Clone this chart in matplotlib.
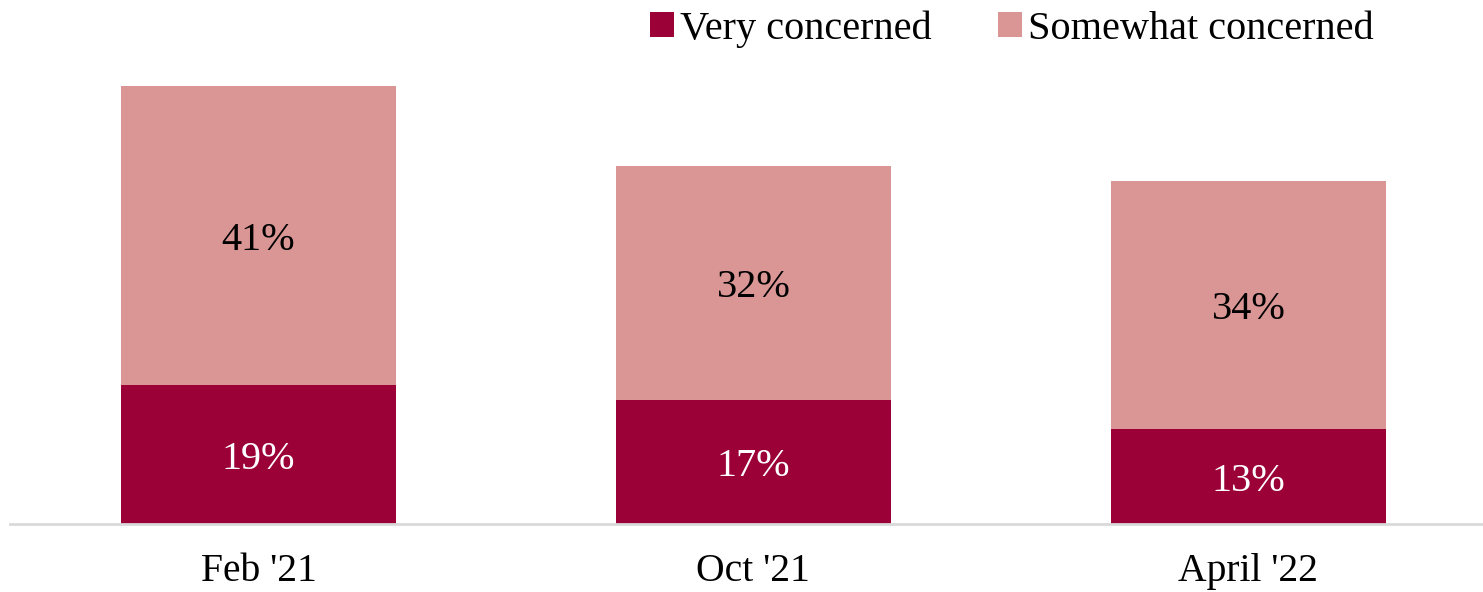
import matplotlib
matplotlib.use("Agg")
import matplotlib.pyplot as plt
import numpy as np

categories = ["Feb '21", "Oct '21", "April '22"]
very_concerned = [19, 17, 13]
somewhat_concerned = [41, 32, 34]
series_names = ["Very concerned", "Somewhat concerned"]

DARK = "#9B0036"
LIGHT = "#D99694"

plt.rcParams["font.family"] = ["Liberation Serif", "DejaVu Serif"]

W, H = 1483, 592
fig = plt.figure(figsize=(W / 100, H / 100), dpi=100)
ax = fig.add_axes([10 / W, (H - 524) / H, 1 - 10 / W, 464 / H])

x = np.arange(len(categories))
width = 0.556
b1 = ax.bar(x, very_concerned, width, color=DARK, label=series_names[0])
b2 = ax.bar(x, somewhat_concerned, width, bottom=very_concerned, color=LIGHT,
            label=series_names[1])

for rect, v in zip(b1, very_concerned):
    ax.text(rect.get_x() + rect.get_width() / 2, rect.get_y() + rect.get_height() / 2,
            f"{v}%", ha="center", va="center_baseline", color="white", fontsize=29)
for rect, v in zip(b2, somewhat_concerned):
    ax.text(rect.get_x() + rect.get_width() / 2, rect.get_y() + rect.get_height() / 2,
            f"{v}%", ha="center", va="center_baseline", color="black", fontsize=29)

ax.set_xlim(-0.502, 2.474)
ax.set_ylim(0, 464 / 7.3)
ax.set_xticks(x)
ax.set_xticklabels(categories, fontsize=28.5)
ax.tick_params(axis="x", length=0, pad=21)
ax.set_yticks([])
for s in ["top", "right", "left"]:
    ax.spines[s].set_visible(False)
ax.spines["bottom"].set_color("#D9D9D9")
ax.spines["bottom"].set_linewidth(2)

fig.legend(handles=[b1, b2], labels=series_names, loc="center right",
           bbox_to_anchor=(1374 / W, 1 - 29 / H), ncol=2, frameon=False,
           fontsize=29, handlelength=0.6, handleheight=0.6, handletextpad=0.15,
           columnspacing=1.65, borderpad=0, borderaxespad=0)

fig.savefig("out.png", dpi=100)
